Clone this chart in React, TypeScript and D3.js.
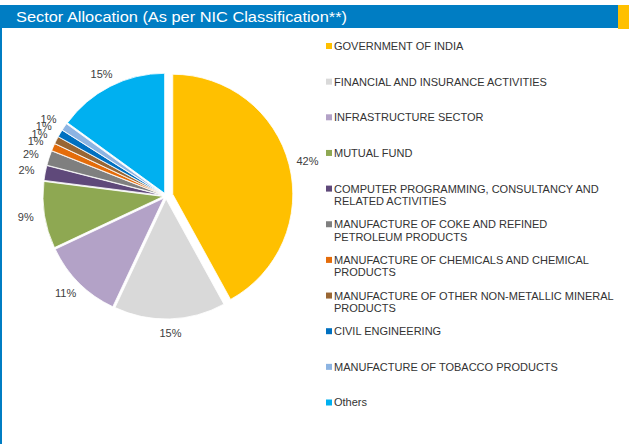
import { useRef, useEffect } from "react";
import * as d3 from "d3";

const sectors = [
  "GOVERNMENT OF INDIA",
  "FINANCIAL AND INSURANCE ACTIVITIES",
  "INFRASTRUCTURE SECTOR",
  "MUTUAL FUND",
  "COMPUTER PROGRAMMING, CONSULTANCY AND RELATED ACTIVITIES",
  "MANUFACTURE OF COKE AND REFINED PETROLEUM PRODUCTS",
  "MANUFACTURE OF CHEMICALS AND CHEMICAL PRODUCTS",
  "MANUFACTURE OF OTHER NON-METALLIC MINERAL PRODUCTS",
  "CIVIL ENGINEERING",
  "MANUFACTURE OF TOBACCO PRODUCTS",
  "Others",
];

// legend lines as wrapped in the reference
const legendLines = [
  ["GOVERNMENT OF INDIA"],
  ["FINANCIAL AND INSURANCE ACTIVITIES"],
  ["INFRASTRUCTURE SECTOR"],
  ["MUTUAL FUND"],
  ["COMPUTER PROGRAMMING, CONSULTANCY AND", "RELATED ACTIVITIES"],
  ["MANUFACTURE OF COKE AND REFINED", "PETROLEUM PRODUCTS"],
  ["MANUFACTURE OF CHEMICALS AND CHEMICAL", "PRODUCTS"],
  ["MANUFACTURE OF OTHER NON-METALLIC MINERAL", "PRODUCTS"],
  ["CIVIL ENGINEERING"],
  ["MANUFACTURE OF TOBACCO PRODUCTS"],
  ["Others"],
];

const shares = [42, 15, 11, 9, 2, 2, 1, 1, 1, 1, 15];

const colors = [
  "#FFC000",
  "#D9D9D9",
  "#B3A2C7",
  "#8EA852",
  "#5F497A",
  "#7F7F7F",
  "#E46C0A",
  "#996633",
  "#0070C0",
  "#8DB4E2",
  "#00B0F0",
];

const title = "Sector Allocation (As per NIC Classification**)";

export default function App() {
  const svgRef = useRef<SVGSVGElement>(null);

  useEffect(() => {
    if (!svgRef.current) return;
    const svg = d3.select(svgRef.current);
    svg.selectAll("*").remove();

    const width = 629;
    const height = 444;

    // header band
    svg.append("rect").attr("x", 0).attr("y", 5).attr("width", 618).attr("height", 23).attr("fill", "#007DC3");
    svg.append("rect").attr("x", 618).attr("y", 5).attr("width", 11).attr("height", 24).attr("fill", "#FFC000");
    svg.append("rect").attr("x", 0).attr("y", 28).attr("width", 2).attr("height", height - 28).attr("fill", "#007DC3");
    svg.append("text")
      .attr("x", 16).attr("y", 22)
      .attr("fill", "#fff")
      .attr("font-family", "'Liberation Sans', Arial, sans-serif")
      .attr("font-size", "14px")
      .attr("textLength", 331)
      .attr("lengthAdjust", "spacingAndGlyphs")
      .text(title);

    // pie
    const cx = 166, cy = 196, r = 120;
    const data = sectors.map((name, i) => ({ name, value: shares[i], color: colors[i] }));
    const pie = d3.pie<typeof data[number]>().value((d) => d.value).sort(null);
    const arcs = pie(data);
    const arc = d3.arc<d3.PieArcDatum<typeof data[number]>>().innerRadius(0).outerRadius(r);

    const g = svg.append("g").attr("transform", `translate(${cx},${cy})`);

    arcs.forEach((a, i) => {
      const mid = (a.startAngle + a.endAngle) / 2;
      const off = i === 0 ? 7 : 3;
      const dx = Math.sin(mid) * off;
      const dy = -Math.cos(mid) * off;
      g.append("path")
        .attr("d", arc(a) as string)
        .attr("transform", `translate(${dx},${dy})`)
        .attr("fill", a.data.color)
        .attr("stroke", "#fff")
        .attr("stroke-width", 0.8);

      const sx = Math.sin(mid), sy = -Math.cos(mid);
      const rr = r + off + 8;
      const lx = sx * rr + sx * 11;
      const ly = sy * rr + sy * 6;
      g.append("text")
        .attr("x", lx).attr("y", ly)
        .attr("dy", "0.35em")
        .attr("text-anchor", "middle")
        .attr("fill", "#404040")
        .attr("font-family", "'Liberation Sans', Arial, sans-serif")
        .attr("font-size", "11px")
        .text(`${a.data.value}%`);
    });

    // legend
    const legend = svg.append("g").attr("transform", "translate(326, 46)");
    legendLines.forEach((lines, i) => {
      const row = legend.append("g").attr("transform", `translate(0, ${i * 35.65})`);
      row.append("rect").attr("x", 0).attr("y", -3).attr("width", 6).attr("height", 6).attr("fill", colors[i]);
      lines.forEach((ln, j) => {
        row.append("text")
          .attr("x", 8).attr("y", j * 12.6)
          .attr("dy", "0.36em")
          .attr("fill", "#333")
          .attr("font-family", "'Liberation Sans', Arial, sans-serif")
          .attr("font-size", "11px")
          .text(ln);
      });
    });

    svg.attr("width", width).attr("height", height);
  }, []);

  return (
    <div style={{ position: "absolute", left: 0, top: 0, background: "#fff" }}>
      <svg ref={svgRef} width={629} height={444} style={{ display: "block" }} />
    </div>
  );
}
